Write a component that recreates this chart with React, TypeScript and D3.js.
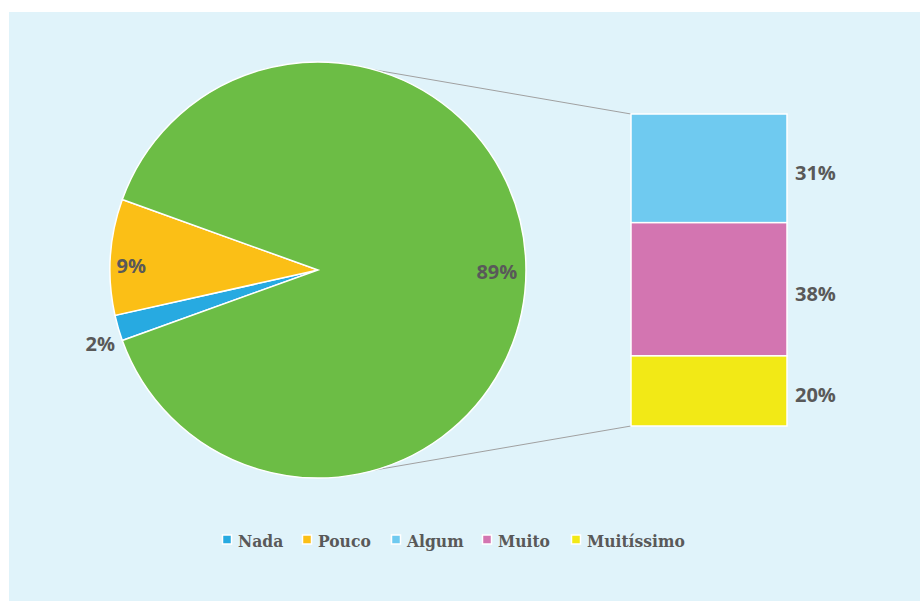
import React from "react";
import * as d3 from "d3";

const pieCategories = ["Nada", "Pouco", "Outros"];
const pieValues = [2, 9, 89];
const pieLabels = ["2%", "9%", "89%"];
const barCategories = ["Algum", "Muito", "Muitíssimo"];
const barValues = [31, 38, 20];
const barLabels = ["31%", "38%", "20%"];
const legendNames = ["Nada", "Pouco", "Algum", "Muito", "Muitíssimo"];
const colors: Record<string, string> = {
  Nada: "#27aae1",
  Pouco: "#fbbf16",
  Outros: "#6cbd45",
  Algum: "#6fcaf0",
  Muito: "#d375b1",
  "Muitíssimo": "#f2e916",
};

const W = 920;
const H = 601;
const cx = 318;
const cy = 270;
const R = 208;
const barX0 = 631;
const barX1 = 787;
const barTop = 114;
const barBottom = 426;
const textColor = "#595959";
const labelFont = "'Open Sans', 'DejaVu Sans', sans-serif";
const legendFont = "'DejaVu Serif Condensed', 'DejaVu Serif', serif";
const labelRadius = [1.1, 0.9, 0.86];
const labelShift = [
  [2, 8],
  [0, 6],
  [0, 0],
];
const legendTextX = [238, 318, 407, 498, 587];

export default function App() {
  const total = d3.sum(pieValues);
  const otherShare = pieValues[2] / total;
  const restAngle = (1 - otherShare) * 2 * Math.PI;
  const start = 1.5 * Math.PI - restAngle / 2;
  const pie = d3
    .pie<number>()
    .sort(null)
    .value((d) => d)
    .startAngle(start)
    .endAngle(start + 2 * Math.PI);
  const arcs = pie(pieValues);
  const arc = d3.arc<d3.PieArcDatum<number>>().innerRadius(0).outerRadius(R);

  const barSum = d3.sum(barValues);
  const y = d3.scaleLinear().domain([0, barSum]).range([barTop, barBottom]);
  const cum = barValues.map((_, i) => d3.sum(barValues.slice(0, i)));

  const connAng = (16 * Math.PI) / 180;
  const topPt = [cx + R * Math.sin(connAng), cy - R * Math.cos(connAng)];
  const botPt = [cx + R * Math.sin(connAng), cy + R * Math.cos(connAng)];

  return (
    <svg width={W} height={H} style={{ position: "absolute", left: 0, top: 0 }}>
      <rect x={9} y={12} width={W - 9} height={H - 12} fill="#e0f3fa" />
      <line x1={topPt[0]} y1={topPt[1]} x2={barX0} y2={barTop} stroke="#a0a0a0" strokeWidth={1} />
      <line x1={botPt[0]} y1={botPt[1]} x2={barX0} y2={barBottom} stroke="#a0a0a0" strokeWidth={1} />
      <g transform={`translate(${cx},${cy})`}>
        {arcs.map((a, i) => (
          <path key={i} d={arc(a) || ""} fill={colors[pieCategories[i]]} stroke="#ffffff" strokeWidth={1.5} />
        ))}
        {arcs.map((a, i) => {
          const mid = (a.startAngle + a.endAngle) / 2;
          const rr = R * labelRadius[i];
          const x = rr * Math.sin(mid) + labelShift[i][0];
          const yy = -rr * Math.cos(mid) + labelShift[i][1];
          return (
            <text
              key={"l" + i}
              x={x}
              y={yy}
              dy="0.45em"
              textAnchor="middle"
              fontFamily={labelFont}
              fontWeight={700}
              fontSize={20}
              fill={textColor}
            >
              {pieLabels[i]}
            </text>
          );
        })}
      </g>
      {barValues.map((v, i) => (
        <g key={"b" + i}>
          <rect
            x={barX0}
            y={y(cum[i])}
            width={barX1 - barX0}
            height={y(cum[i] + v) - y(cum[i])}
            fill={colors[barCategories[i]]}
            stroke="#ffffff"
            strokeWidth={1.5}
          />
          <text
            x={795}
            y={(y(cum[i]) + y(cum[i] + v)) / 2}
            dy="0.575em"
            fontFamily={labelFont}
            fontWeight={700}
            fontSize={20}
            fill={textColor}
          >
            {barLabels[i]}
          </text>
        </g>
      ))}
      {legendNames.map((n, i) => (
        <g key={"g" + i}>
          <rect
            x={legendTextX[i] - 15.5}
            y={535}
            width={9}
            height={9}
            fill={colors[n]}
            stroke="#ffffff"
            strokeWidth={1.5}
          />
          <text
            x={legendTextX[i]}
            y={546.5}
            fontFamily={legendFont}
            fontWeight={700}
            fontSize={17.3}
            fill={textColor}
          >
            {n}
          </text>
        </g>
      ))}
    </svg>
  );
}
